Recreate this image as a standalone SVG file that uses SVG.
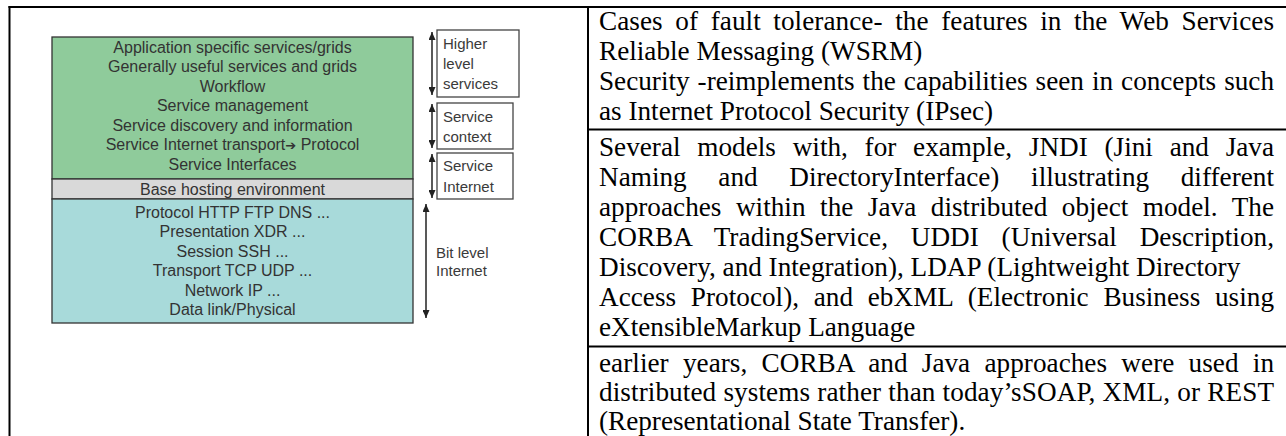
<svg xmlns="http://www.w3.org/2000/svg" width="1286" height="436" viewBox="0 0 1286 436">
<defs>
<style>
.tbl{stroke:#000;stroke-width:2;fill:none}
.cell{font-family:"Liberation Serif","Times New Roman",serif;font-size:27.2px;fill:#000}
.dg{font-family:"Liberation Sans",Arial,sans-serif;font-size:16px;fill:#333;text-anchor:middle}
.lb{font-family:"Liberation Sans",Arial,sans-serif;font-size:15px;fill:#3a3a3a}
.layer{stroke:#333;stroke-width:1.3}
.lbox{fill:#fff;stroke:#444;stroke-width:1.3}
.arr{stroke:#222;stroke-width:1.5;fill:none}
</style>
<marker id="ah" viewBox="0 0 8 7" refX="8" refY="3.5" markerWidth="8" markerHeight="7" markerUnits="userSpaceOnUse" orient="auto-start-reverse">
<path d="M0,0 L8,3.5 L0,7 z" fill="#222"/>
</marker>
</defs>
<rect width="1286" height="436" fill="#fff"/>

<g id="table">
<line class="tbl" x1="8.5" y1="7" x2="1286" y2="7"/>
<line class="tbl" x1="9.5" y1="6" x2="9.5" y2="436"/>
<line class="tbl" x1="588" y1="6" x2="588" y2="436"/>
<line class="tbl" x1="588" y1="129.5" x2="1286" y2="129.5"/>
<line class="tbl" x1="588" y1="346.5" x2="1286" y2="346.5"/>
</g>

<g id="layer-higher">
<rect class="layer" x="52" y="37" width="361" height="142" fill="#8fcb9b"/>
<text class="dg" x="232.5" y="52.5">Application specific services/grids</text>
<text class="dg" x="232.5" y="72">Generally useful services and grids</text>
<text class="dg" x="232.5" y="91.5">Workflow</text>
<text class="dg" x="232.5" y="111">Service management</text>
<text class="dg" x="232.5" y="130.5">Service discovery and information</text>
<text class="dg" x="232.5" y="150">Service Internet transport<tspan font-family="'DejaVu Sans',sans-serif" font-size="13px">➔</tspan> Protocol</text>
<text class="dg" x="232.5" y="169.5">Service Interfaces</text>
</g>
<g id="layer-base">
<rect class="layer" x="52" y="179" width="361" height="20" fill="#d9d9d9"/>
<text class="dg" x="232.5" y="194.5">Base hosting environment</text>
</g>
<g id="layer-bit">
<rect class="layer" x="52" y="199" width="361" height="124" fill="#a8dada"/>
<text class="dg" x="232.5" y="217.5">Protocol HTTP FTP DNS ...</text>
<text class="dg" x="232.5" y="237">Presentation XDR ...</text>
<text class="dg" x="232.5" y="256.5">Session SSH ...</text>
<text class="dg" x="232.5" y="276">Transport TCP UDP ...</text>
<text class="dg" x="232.5" y="295.5">Network IP ...</text>
<text class="dg" x="232.5" y="315">Data link/Physical</text>
</g>

<g id="label-higher">
<rect class="lbox" x="437" y="30" width="82" height="67"/>
<text class="lb" x="443" y="49">Higher</text>
<text class="lb" x="443" y="69">level</text>
<text class="lb" x="443" y="89">services</text>
</g>
<g id="label-context">
<rect class="lbox" x="437" y="103" width="76" height="46"/>
<text class="lb" x="443" y="121.5">Service</text>
<text class="lb" x="443" y="142">context</text>
</g>
<g id="label-internet">
<rect class="lbox" x="437" y="153" width="76" height="46"/>
<text class="lb" x="443" y="171">Service</text>
<text class="lb" x="443" y="191.5">Internet</text>
</g>
<g id="label-bitlevel">
<text class="lb" x="436" y="258">Bit level</text>
<text class="lb" x="436" y="276">Internet</text>
</g>

<g id="connectors">
<line class="arr" x1="432" y1="32" x2="432" y2="95" marker-start="url(#ah)" marker-end="url(#ah)"/>
<line class="arr" x1="432" y1="104" x2="432" y2="148" marker-start="url(#ah)" marker-end="url(#ah)"/>
<line class="arr" x1="432" y1="154" x2="432" y2="198" marker-start="url(#ah)" marker-end="url(#ah)"/>
<line class="arr" x1="426" y1="204" x2="426" y2="318" marker-start="url(#ah)" marker-end="url(#ah)"/>
</g>

<g id="cell-1">
<text class="cell" x="599" y="30" word-spacing="5.76" textLength="675" lengthAdjust="spacing">Cases of fault tolerance- the features in the Web Services</text>
<text class="cell" x="599" y="60">Reliable Messaging (WSRM)</text>
<text class="cell" x="599" y="90" word-spacing="1.21" textLength="675" lengthAdjust="spacing">Security -reimplements the capabilities seen in concepts such</text>
<text class="cell" x="599" y="120">as Internet Protocol Security (IPsec)</text>
</g>
<g id="cell-2">
<text class="cell" x="599" y="156" word-spacing="9.96" textLength="675" lengthAdjust="spacing">Several models with, for example, JNDI (Jini and Java</text>
<text class="cell" x="599" y="186" word-spacing="24.85" textLength="675" lengthAdjust="spacing">Naming and DirectoryInterface) illustrating different</text>
<text class="cell" x="599" y="216" word-spacing="7.71" textLength="675" lengthAdjust="spacing">approaches within the Java distributed object model. The</text>
<text class="cell" x="599" y="246" word-spacing="15.78" textLength="675" lengthAdjust="spacing">CORBA TradingService, UDDI (Universal Description,</text>
<text class="cell" x="599" y="276">Discovery, and Integration), LDAP (Lightweight Directory</text>
<text class="cell" x="599" y="306" word-spacing="7.87" textLength="675" lengthAdjust="spacing">Access Protocol), and ebXML (Electronic Business using</text>
<text class="cell" x="599" y="336">eXtensibleMarkup Language</text>
</g>
<g id="cell-3">
<text class="cell" x="599" y="372" word-spacing="7.43" textLength="675" lengthAdjust="spacing">earlier years, CORBA and Java approaches were used in</text>
<text class="cell" x="599" y="401" word-spacing="0.26" textLength="675" lengthAdjust="spacing">distributed systems rather than today’sSOAP, XML, or REST</text>
<text class="cell" x="599" y="430">(Representational State Transfer).</text>
</g>
</svg>
